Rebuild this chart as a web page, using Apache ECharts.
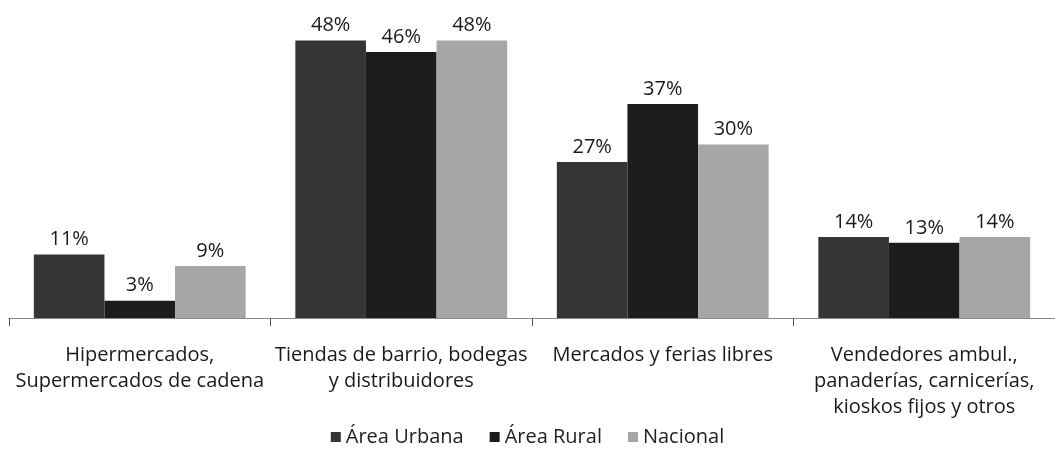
<!DOCTYPE html>
<html><head><meta charset="utf-8">
<script src="https://cdn.jsdelivr.net/npm/echarts@6/dist/echarts.min.js"></script>
<style>html,body{margin:0;padding:0;background:#fff}#c{width:1055px;height:454px}</style>
</head><body><div id="c"></div>
<script>
const categories = [
  "Hipermercados,\nSupermercados de cadena",
  "Tiendas de barrio, bodegas\ny distribuidores",
  "Mercados y ferias libres",
  "Vendedores ambul.,\npanaderías, carnicerías,\nkioskos fijos y otros"
];
const seriesNames = ["Área Urbana", "Área Rural", "Nacional"];
const urbana = [11, 48, 27, 14];
const rural = [3, 46, 37, 13];
const nacional = [9, 48, 30, 14];
const colors = ["#353535", "#1c1c1c", "#a6a6a6"];

const font = "'Open Sans', 'DejaVu Sans', sans-serif";
const chart = echarts.init(document.getElementById('c'), null, {renderer: 'canvas'});
const mk = (name, data, color) => ({
  name, type: 'bar', data,
  barGap: '0%', barCategoryGap: '19%',
  itemStyle: {color},
  label: {show: true, position: 'top', distance: 5, formatter: '{c}%', color: '#1a1a1a', fontFamily: font, fontSize: 20}
});
chart.setOption({
  animation: false,
  textStyle: {fontFamily: font},
  grid: {left: 9, width: 1052, top: 0, bottom: 136},
  legend: {
    bottom: 2, left: 'center', itemWidth: 10, itemHeight: 10, itemGap: 26,
    icon: 'rect',
    textStyle: {fontFamily: font, fontSize: 20, color: '#222'}
  },
  xAxis: {
    type: 'category', data: categories,
    axisLine: {lineStyle: {color: '#888', width: 1}},
    axisTick: {show: true, length: 8, lineStyle: {color: '#555'}},
    axisLabel: {interval: 0, color: '#1a1a1a', fontSize: 20, lineHeight: 26, margin: 24, fontFamily: font}
  },
  yAxis: {type: 'value', min: 0, max: 55, show: false, splitLine: {show: false}},
  series: [mk(seriesNames[0], urbana, colors[0]), mk(seriesNames[1], rural, colors[1]), mk(seriesNames[2], nacional, colors[2])]
});
</script></body></html>
